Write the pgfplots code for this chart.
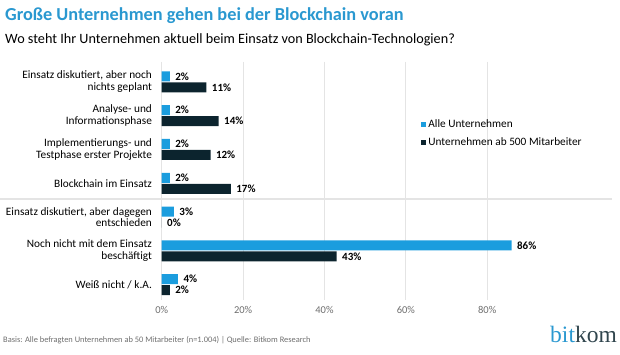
\documentclass[border=0pt]{standalone}
\usepackage{pgfplots}
\pgfplotsset{compat=1.18}
\usepackage{fontspec}
\setmainfont{Carlito}
\newfontfamily\logofont{Liberation Serif}
\definecolor{bkblue}{RGB}{27,157,222}
\definecolor{bkdark}{RGB}{12,36,46}
\definecolor{titleblue}{RGB}{42,152,208}
\definecolor{gridgray}{RGB}{228,228,228}
\definecolor{footgray}{RGB}{110,110,110}
\begin{document}
\begin{tikzpicture}
\path[use as bounding box] (0,0) rectangle (620pt,355pt);
\node[anchor=base west,inner sep=0,font=\fontsize{18.3}{20}\selectfont\bfseries,text=titleblue] at (5pt,334pt) {Große Unternehmen gehen bei der Blockchain voran};
\node[anchor=base west,inner sep=0,font=\fontsize{14.2}{16}\selectfont,text=black] at (5pt,311pt) {Wo steht Ihr Unternehmen aktuell beim Einsatz von Blockchain-Technologien?};
\draw[gridgray,line width=1.5pt] (0,156pt) -- (612pt,156pt);
\begin{axis}[
  at={(161.7pt,55.1pt)}, anchor=south west,
  scale only axis, width=450pt, height=238.3pt,
  xbar=1pt, bar width=10pt,
  xmin=0, xmax=110.6,
  ymin=-0.6, ymax=6.45, y dir=reverse,
  axis line style={draw=none},
  tick style={draw=none},
  xtick={0,20,40,60,80},
  xticklabels={0\%,20\%,40\%,60\%,80\%},
  xmajorgrids, grid style={gridgray,line width=0.8pt},
  xticklabel style={font=\fontsize{10.5}{12}\selectfont,text=footgray,yshift=-3pt},
  ytick={0,1,2,3,4,5,6},
  yticklabels={{Einsatz diskutiert, aber noch\\nichts geplant},
    {Analyse- und\\Informationsphase},
    {Implementierungs- und\\Testphase erster Projekte},
    {Blockchain im Einsatz},
    {Einsatz diskutiert, aber dagegen\\entschieden},
    {Noch nicht mit dem Einsatz\\beschäftigt},
    {Weiß nicht / k.A.}},
  yticklabel style={align=right,font=\fontsize{11.3}{11.7}\selectfont,text=black,xshift=-2pt},
  point meta=x,
  nodes near coords={\pgfmathprintnumber{\pgfplotspointmeta}\%},
  nodes near coords style={font=\fontsize{11}{12}\selectfont\bfseries,text=black,anchor=west,xshift=2pt},
  /pgf/number format/assume math mode=true,
  legend style={at={(0.57,0.775)},anchor=north west,draw=none,fill=none,
    font=\fontsize{11.3}{13}\selectfont,row sep=5pt,
    /tikz/every even column/.append style={column sep=2pt}},
  legend cell align=left,
  clip=false,
]
\addplot[bar shift=5.5pt,fill=bkblue,draw=none,legend image code/.code={\fill[bkblue] (0pt,-2.5pt) rectangle (5pt,2.5pt);}] coordinates {(2,0) (2,1) (2,2) (2,3) (3,4) (86,5) (4,6)};
\addlegendentry{Alle Unternehmen}
\addplot[bar shift=-5.5pt,fill=bkdark,draw=none,legend image code/.code={\fill[bkdark] (0pt,-2.5pt) rectangle (5pt,2.5pt);}] coordinates {(11,0) (14,1) (12,2) (17,3) (0,4) (43,5) (2,6)};
\addlegendentry{Unternehmen ab 500 Mitarbeiter}
\end{axis}
\node[anchor=base west,inner sep=0,font=\fontsize{8.4}{10}\selectfont,text=footgray] at (3pt,12pt) {Basis: Alle befragten Unternehmen ab 50 Mitarbeiter (n=1.004) | Quelle: Bitkom Research};
\node[anchor=base east,inner sep=0,font=\fontsize{23.5}{26}\selectfont\logofont] at (617pt,12pt) {\textcolor{titleblue}{bit}\textcolor{bkdark!85}{kom}};
\end{tikzpicture}
\end{document}
